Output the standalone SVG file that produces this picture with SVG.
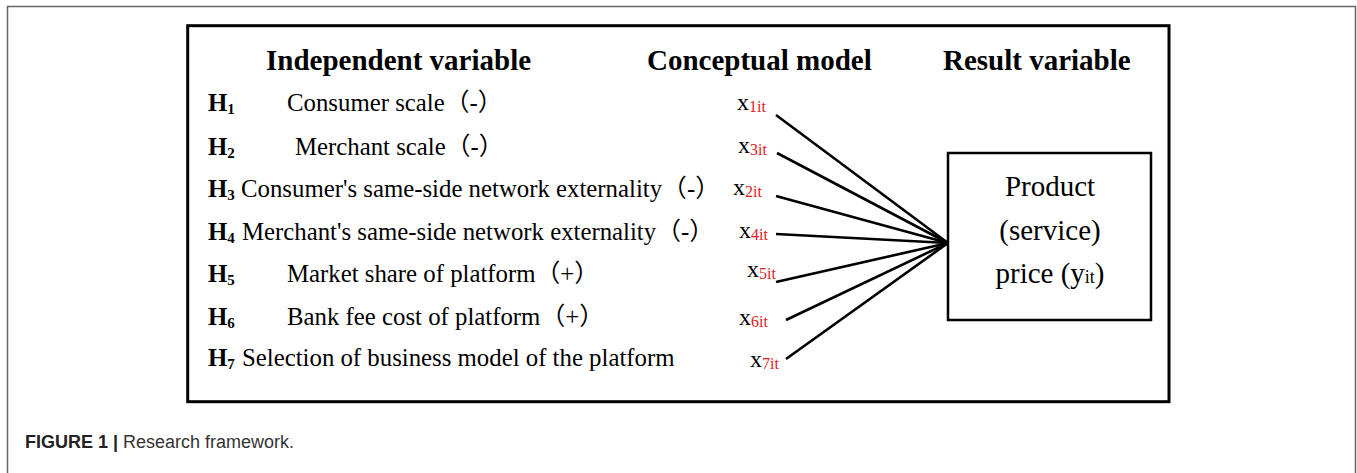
<svg xmlns="http://www.w3.org/2000/svg" width="1357" height="473" viewBox="0 0 1357 473">
<style>
.frame{fill:none;stroke:#666;stroke-width:1.5}
.box{fill:none;stroke:#000;stroke-width:3}
.pbox{fill:#fff;stroke:#000;stroke-width:2.5}
.hdr{font-family:"Liberation Serif","Times New Roman",serif;font-weight:bold;font-size:29px;fill:#000}
.t{font-family:"Liberation Serif","Noto Sans CJK SC",serif;font-size:24.8px;fill:#000}
.hb{font-weight:bold}
.hs{font-weight:bold;font-size:15px}
.xv{font-family:"Liberation Serif","Times New Roman",serif;font-size:24px;fill:#000}
.xs{font-size:16px;fill:#e3211c}
.pt{font-family:"Liberation Serif","Times New Roman",serif;font-size:29px;fill:#000;text-anchor:middle}
.ps{font-size:18px}
.conn line{stroke:#000;stroke-width:2.6;stroke-linecap:butt}
.cap{font-family:"Liberation Sans",Arial,sans-serif;font-size:18px;fill:#333}
</style>
<rect x="0" y="0" width="1357" height="473" fill="#fff"/>
<path class="frame" d="M7.5,473 V6.5 H1355.5 V473"/>
<rect class="box" x="187.7" y="25.7" width="981.3" height="376"/>

<g id="headers">
<text class="hdr" x="266" y="70">Independent variable</text>
<text class="hdr" x="647" y="70">Conceptual model</text>
<text class="hdr" x="943" y="70">Result variable</text>
</g>

<g id="hypotheses">
<g id="h1"><text class="t" x="208" y="111"><tspan class="hb">H</tspan><tspan class="hs" dy="3">1</tspan></text><text class="t" x="287" y="111">Consumer scale（-）</text></g>
<g id="h2"><text class="t" x="208" y="155"><tspan class="hb">H</tspan><tspan class="hs" dy="3">2</tspan></text><text class="t" x="295" y="155">Merchant scale（-）</text></g>
<g id="h3"><text class="t" x="208" y="197"><tspan class="hb">H</tspan><tspan class="hs" dy="3">3</tspan></text><text class="t" x="241" y="197">Consumer's same-side network externality（-）</text></g>
<g id="h4"><text class="t" x="208" y="240"><tspan class="hb">H</tspan><tspan class="hs" dy="3">4</tspan></text><text class="t" x="242" y="240">Merchant's same-side network externality（-）</text></g>
<g id="h5"><text class="t" x="208" y="282"><tspan class="hb">H</tspan><tspan class="hs" dy="3">5</tspan></text><text class="t" x="287" y="282">Market share of platform（+）</text></g>
<g id="h6"><text class="t" x="208" y="325"><tspan class="hb">H</tspan><tspan class="hs" dy="3">6</tspan></text><text class="t" x="287" y="325">Bank fee cost of platform（+）</text></g>
<g id="h7"><text class="t" x="208" y="366"><tspan class="hb">H</tspan><tspan class="hs" dy="3">7</tspan></text><text class="t" x="242" y="366">Selection of business model of the platform</text></g>
</g>

<g id="x1"><text class="xv" x="737" y="110">x<tspan class="xs" dy="2">1it</tspan></text></g>
<g id="x3"><text class="xv" x="738" y="153">x<tspan class="xs" dy="2">3it</tspan></text></g>
<g id="x2"><text class="xv" x="733" y="195">x<tspan class="xs" dy="2">2it</tspan></text></g>
<g id="x4"><text class="xv" x="739" y="238">x<tspan class="xs" dy="2">4it</tspan></text></g>
<g id="x5"><text class="xv" x="747" y="277">x<tspan class="xs" dy="2">5it</tspan></text></g>
<g id="x6"><text class="xv" x="739" y="325">x<tspan class="xs" dy="2">6it</tspan></text></g>
<g id="x7"><text class="xv" x="750" y="367">x<tspan class="xs" dy="2">7it</tspan></text></g>

<g id="connectors" class="conn">
<line x1="776" y1="115" x2="948" y2="243"/>
<line x1="777" y1="153" x2="948" y2="243"/>
<line x1="776" y1="196" x2="948" y2="243"/>
<line x1="776" y1="234" x2="948" y2="243"/>
<line x1="776" y1="282" x2="948" y2="243"/>
<line x1="786" y1="320" x2="948" y2="243"/>
<line x1="786" y1="359" x2="948" y2="243"/>
</g>

<g id="result">
<rect class="pbox" x="948" y="153" width="203" height="167"/>
<text class="pt" x="1050" y="196">Product</text>
<text class="pt" x="1050" y="240">(service)</text>
<text class="pt" x="1050" y="283">price (y<tspan class="ps">it</tspan>)</text>
</g>

<text class="cap" x="25" y="448"><tspan font-weight="bold" fill="#222">FIGURE 1 | </tspan>Research framework.</text>
</svg>
